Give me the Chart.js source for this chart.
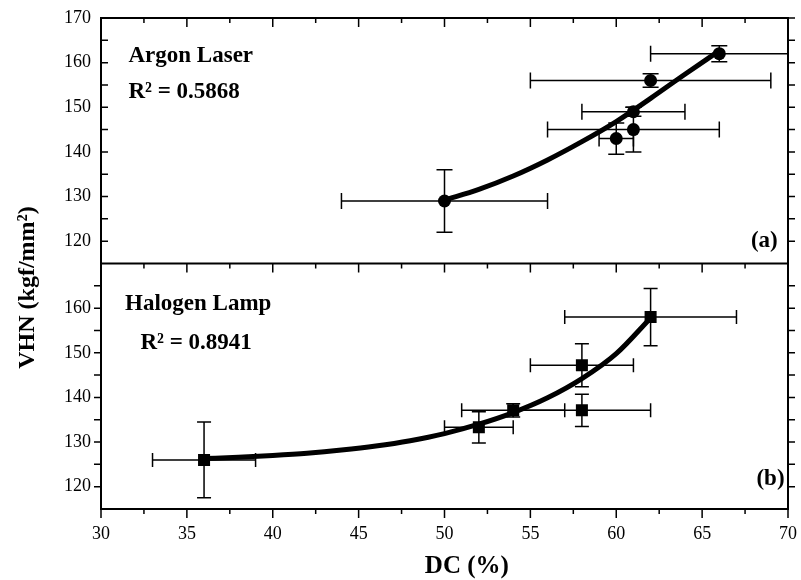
<!DOCTYPE html>
<html>
<head>
<meta charset="utf-8">
<script src="https://cdn.jsdelivr.net/npm/chart.js@4.4.1/dist/chart.umd.min.js"></script>
<style>
  html, body { margin: 0; padding: 0; background: #fff; overflow: hidden; }
  #wrap { width: 801px; height: 580px; }
  canvas { display: block; }
</style>
</head>
<body>
<div id="wrap"><canvas id="grafico"></canvas></div>
<script>
// (a) argon laser
const argonDC = [50, 60, 61, 61, 62, 66];
const argonVHN = [129, 143, 145, 149, 156, 162];
const argonErrDC = [6, 1, 5, 3, 7, 4];
const argonErrVHN = [7, 3.5, 5, 1, 1.5, 1.8];
// fit line
const argonFitDC = [50, 52, 54, 56, 58, 60, 62, 64, 65.9];
const argonFitVHN = [129.2, 131.6, 134.6, 138.2, 142.3, 146.8, 152, 157.4, 162.4];

// (b) halogen lamp
const halogenDC = [36, 52, 54, 58, 58, 62];
const halogenVHN = [126, 133.3, 137.1, 147.2, 137.1, 158];
const halogenErrDC = [3, 2, 3, 3, 4, 5];
const halogenErrVHN = [8.5, 3.5, 1.5, 4.8, 3.6, 6.4];
const halogenFitDC = [36, 38, 40, 42, 44, 46, 48, 50, 52, 54, 56, 58, 60, 62];
const halogenFitVHN = [126.3, 126.6, 127, 127.5, 128.2, 129.1, 130.3, 131.9, 134, 136.6, 139.9, 144.2, 149.8, 157.8];

const xTicks = [30, 35, 40, 45, 50, 55, 60, 65, 70];
const xMinor = [32.5, 37.5, 42.5, 47.5, 52.5, 57.5, 62.5, 67.5];
const yTicksA = [120, 130, 140, 150, 160, 170];
const yTicksB = [120, 130, 140, 150, 160];
const yMinor = [125, 135, 145, 155, 165];

const panelNames = ['Argon Laser', 'Halogen Lamp'];
const r2Labels = ['R\u00B2 = 0.5868', 'R\u00B2 = 0.8941'];
const panelTags = ['(a)', '(b)'];

const serif = '"Liberation Serif", "Times New Roman", serif';

const pts = (xs, ys) => xs.map((v, i) => ({ x: v, y: ys[i] }));

const errorBars = {
  id: 'errorBars',
  beforeDatasetsDraw(chart) {
    const ctx = chart.ctx;
    const sx = chart.scales.x;
    chart.data.datasets.forEach(ds => {
      if (!ds.errX) return;
      const sy = chart.scales[ds.yAxisID];
      const c = ds.cap;
      ctx.save();
      ctx.strokeStyle = '#000';
      ctx.lineWidth = 1.5;
      ds.data.forEach((p, j) => {
        const px = sx.getPixelForValue(p.x), py = sy.getPixelForValue(p.y);
        const x0 = sx.getPixelForValue(p.x - ds.errX[j]);
        const x1 = sx.getPixelForValue(p.x + ds.errX[j]);
        const y0 = sy.getPixelForValue(p.y - ds.errY[j]);
        const y1 = sy.getPixelForValue(p.y + ds.errY[j]);
        ctx.beginPath();
        ctx.moveTo(x0, py); ctx.lineTo(x1, py);
        ctx.moveTo(x0, py - c); ctx.lineTo(x0, py + c);
        ctx.moveTo(x1, py - c); ctx.lineTo(x1, py + c);
        ctx.moveTo(px, y0); ctx.lineTo(px, y1);
        ctx.moveTo(px - c, y0); ctx.lineTo(px + c, y0);
        ctx.moveTo(px - c, y1); ctx.lineTo(px + c, y1);
        ctx.stroke();
      });
      ctx.restore();
    });
  }
};

// frames, tick marks and the text inside the panels
const frames = {
  id: 'frames',
  afterDraw(chart) {
    const ctx = chart.ctx;
    const sx = chart.scales.x, ya = chart.scales.yA, yb = chart.scales.yB;
    const L = chart.chartArea.left, R = chart.chartArea.right;
    const line = (a, b, c, d) => { ctx.moveTo(a, b); ctx.lineTo(c, d); };
    ctx.save();
    ctx.strokeStyle = '#000';
    ctx.lineWidth = 2;
    ctx.beginPath();
    ctx.rect(L, ya.top, R - L, ya.bottom - ya.top);
    ctx.rect(L, yb.top, R - L, yb.bottom - yb.top);
    ctx.stroke();

    ctx.lineWidth = 1.5;
    ctx.beginPath();
    const big = 9, small = 5;
    xTicks.forEach(v => {
      const p = sx.getPixelForValue(v);
      line(p, ya.top, p, ya.top + big);          // top, inside
      line(p, ya.bottom, p, ya.bottom + big);    // between panels
      line(p, yb.bottom, p, yb.bottom + big);    // bottom, outside
    });
    xMinor.forEach(v => {
      const p = sx.getPixelForValue(v);
      line(p, ya.top, p, ya.top + small);
      line(p, ya.bottom, p, ya.bottom + small);
      line(p, yb.bottom, p, yb.bottom + small);
    });
    yTicksA.concat(yMinor).forEach(v => {
      const a = ya.getPixelForValue(v);
      line(L, a, L + 7, a);
      line(R, a, R + 7, a);
      if (v < 170) {
        const b = yb.getPixelForValue(v);
        line(L, b, L - 7, b);
        line(R, b, R + 7, b);
      }
    });
    ctx.stroke();

    ctx.fillStyle = '#000';
    ctx.font = 'bold 23px ' + serif;
    ctx.textBaseline = 'middle';
    ctx.textAlign = 'left';
    ctx.fillText(panelNames[0], sx.getPixelForValue(31.6), ya.getPixelForValue(161.4));
    ctx.fillText(r2Labels[0], sx.getPixelForValue(31.6), ya.getPixelForValue(153.3));
    ctx.fillText(panelNames[1], sx.getPixelForValue(31.4), yb.getPixelForValue(161));
    ctx.fillText(r2Labels[1], sx.getPixelForValue(32.3), yb.getPixelForValue(152.1));
    ctx.textAlign = 'right';
    ctx.fillText(panelTags[0], sx.getPixelForValue(69.4), ya.getPixelForValue(120));
    ctx.fillText(panelTags[1], sx.getPixelForValue(69.8), yb.getPixelForValue(121.7));

    // x title
    ctx.font = 'bold 25px ' + serif;
    ctx.textAlign = 'center';
    ctx.fillText('DC (%)', sx.getPixelForValue(51.3), yb.bottom + 58);

    // y title spans both panels
    ctx.font = 'bold 24px ' + serif;
    ctx.translate(28, (ya.top + yb.bottom) / 2 + 24);
    ctx.rotate(-Math.PI / 2);
    ctx.fillText('VHN (kgf/mm\u00B2)', 0, 0);
    ctx.restore();
  }
};

const yScale = (ticksArr) => ({
  type: 'linear',
  position: 'left',
  stack: 'vhn',
  stackWeight: 1,
  min: 115,
  max: 170,
  grid: { display: false, drawTicks: false },
  border: { display: false },
  afterBuildTicks: s => { s.ticks = ticksArr.map(v => ({ value: v })); },
  afterFit: s => { s.width = 56; s.paddingTop = 0; s.paddingBottom = 0; },
  ticks: { padding: 10, color: '#000', font: { family: serif, size: 18 } }
});

new Chart(document.getElementById('grafico'), {
  type: 'scatter',
  data: {
    datasets: [
      {
        label: 'Argon Laser',
        data: pts(argonDC, argonVHN),
        yAxisID: 'yA',
        errX: argonErrDC, errY: argonErrVHN, cap: 8,
        pointStyle: 'circle', pointRadius: 6.5,
        backgroundColor: '#000', borderColor: '#000', borderWidth: 0
      },
      {
        label: 'Argon fit',
        data: pts(argonFitDC, argonFitVHN),
        yAxisID: 'yA',
        showLine: true, pointRadius: 0,
        cubicInterpolationMode: 'monotone',
        borderColor: '#000', borderWidth: 5
      },
      {
        label: 'Halogen Lamp',
        data: pts(halogenDC, halogenVHN),
        yAxisID: 'yB',
        errX: halogenErrDC, errY: halogenErrVHN, cap: 7,
        pointStyle: 'rect', pointRadius: 8.5,
        backgroundColor: '#000', borderColor: '#000', borderWidth: 0
      },
      {
        label: 'Halogen fit',
        data: pts(halogenFitDC, halogenFitVHN),
        yAxisID: 'yB',
        showLine: true, pointRadius: 0,
        cubicInterpolationMode: 'monotone',
        borderColor: '#000', borderWidth: 5
      }
    ]
  },
  options: {
    responsive: true,
    maintainAspectRatio: false,
    animation: false,
    layout: { padding: { left: 45, right: 13, top: 18, bottom: 0 } },
    plugins: { legend: { display: false }, tooltip: { enabled: false } },
    scales: {
      x: {
        type: 'linear',
        min: 30,
        max: 70,
        grid: { display: false, drawTicks: false },
        border: { display: false },
        afterBuildTicks: s => { s.ticks = xTicks.map(v => ({ value: v })); },
        afterFit: s => { s.height = 71; s.paddingLeft = 0; s.paddingRight = 0; },
        ticks: { padding: 14, color: '#000', font: { family: serif, size: 18 } }
      },
      yB: yScale(yTicksB),
      yA: yScale(yTicksA)
    }
  },
  plugins: [errorBars, frames]
});
</script>
</body>
</html>
